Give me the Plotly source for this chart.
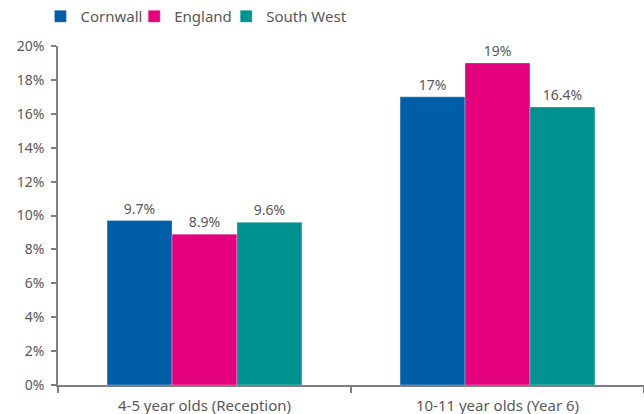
import plotly.graph_objects as go

categories = ["4-5 year olds (Reception)", "10-11 year olds (Year 6)"]
series_names = ["Cornwall", "England", "South West"]
cornwall = [9.7, 17]
england = [8.9, 19]
south_west = [9.6, 16.4]
value_labels = [["9.7%", "17%"], ["8.9%", "19%"], ["9.6%", "16.4%"]]
colors = ["#005DA8", "#E5007D", "#00928E"]
y_ticks = [0, 2, 4, 6, 8, 10, 12, 14, 16, 18, 20]
y_tick_text = [f"{v}%" for v in y_ticks]

TEXT = "#595959"
FONT = "Noto Sans"

# one legend box per series so the entries can be spaced evenly
legend_ids = ["legend", "legend2", "legend3"]
legend_x = [-0.03, 0.130, 0.287]

fig = go.Figure()
for name, vals, labels, col, lg in zip(series_names, [cornwall, england, south_west],
                                        value_labels, colors, legend_ids):
    fig.add_trace(go.Bar(
        name=name, x=categories, y=vals, legend=lg,
        marker=dict(color=col, line=dict(color="rgba(255,255,255,0.6)", width=0.5)),
        text=labels, textposition="outside", cliponaxis=False,
        textfont=dict(family=FONT, size=14, color=TEXT),
    ))

legend_style = dict(
    orientation="h", xanchor="left", y=1.0, yanchor="top", yref="container",
    font=dict(family=FONT, size=15, color=TEXT), itemwidth=30,
    bgcolor="rgba(0,0,0,0)",
)

fig.update_layout(
    width=644, height=414,
    margin=dict(l=58, r=0, t=46, b=29, autoexpand=False),
    paper_bgcolor="white", plot_bgcolor="white",
    barmode="group", bargap=0.335, bargroupgap=0,
    font=dict(family=FONT, size=14, color=TEXT),
    showlegend=True,
    **{lg: dict(x=x, **legend_style) for lg, x in zip(legend_ids, legend_x)},
)
fig.update_xaxes(
    showline=True, linecolor="#7f7f7f", linewidth=1.5,
    ticks="outside", ticklen=6, tickcolor="#7f7f7f", tickwidth=1.5,
    tickson="boundaries", showgrid=False, ticklabelstandoff=6,
    tickfont=dict(family=FONT, size=15, color=TEXT),
)
fig.update_yaxes(
    range=[0, 20], tickmode="array", tickvals=y_ticks, ticktext=y_tick_text,
    showline=True, linecolor="#7f7f7f", linewidth=1.5,
    ticks="outside", ticklen=5, tickcolor="#7f7f7f", tickwidth=1.5,
    showgrid=False, zeroline=False, ticklabelstandoff=4,
    tickfont=dict(family=FONT, size=14, color=TEXT),
)

fig.write_html("out.html")
